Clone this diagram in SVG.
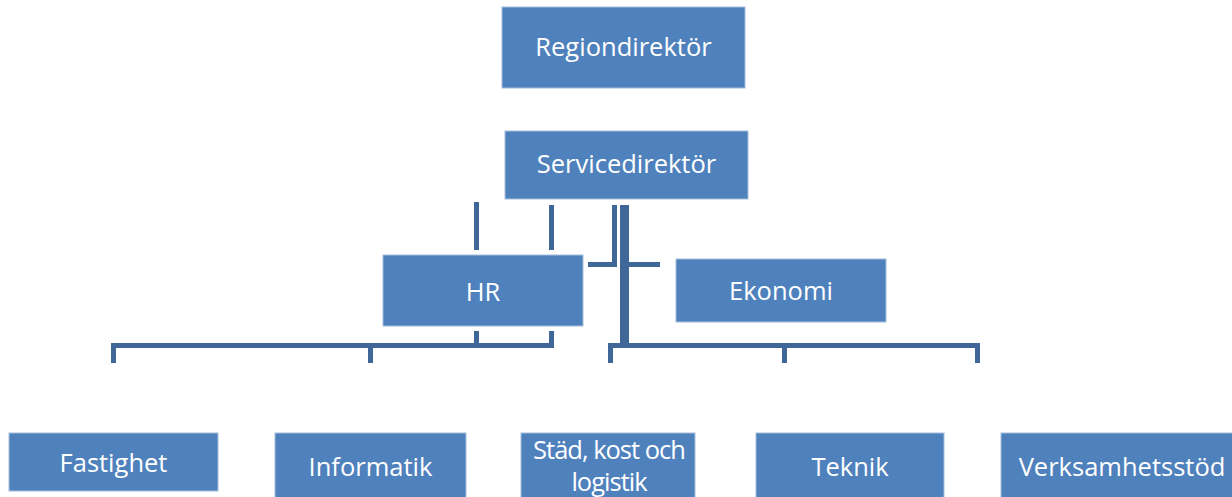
<svg xmlns="http://www.w3.org/2000/svg" width="1232" height="497" viewBox="0 0 1232 497">
<style>
.box{fill:#4F81BD;stroke:#A7BEDC;stroke-width:1}
.t{font-family:"Open Sans","Liberation Sans",sans-serif;font-size:25.5px;fill:#FFFFFF;text-anchor:middle}
.s{letter-spacing:-1px}
.c{fill:none;stroke:#3F6797;stroke-width:5;stroke-linecap:butt;stroke-linejoin:miter}
.ct{fill:none;stroke:#3F6797;stroke-width:9}
</style>
<rect x="0" y="0" width="1232" height="497" fill="#FFFFFF"/>
<g id="connectors">
<path class="c" d="M476.5,202 V250"/>
<path class="c" d="M551.5,205 V250"/>
<path class="c" d="M614.5,205 V264.5 H588"/>
<path class="c" d="M629,264.5 H660"/>
<path class="ct" d="M624.5,205 V345"/>
<path class="c" d="M476.5,331 V345.5"/>
<path class="c" d="M551.5,331 V345.5 H113.5 V363"/>
<path class="c" d="M370.5,345.5 V363"/>
<path class="c" d="M610.5,363 V345.5 H977.5 V363"/>
<path class="c" d="M784.5,345.5 V363"/>
</g>
<g id="regiondirektor"><rect class="box" x="502" y="7" width="243" height="81"/><text class="t" x="623.5" y="56">Regiondirektör</text></g>
<g id="servicedirektor"><rect class="box" x="505" y="131" width="243" height="68"/><text class="t" x="626.5" y="173">Servicedirektör</text></g>
<g id="hr"><rect class="box" x="383" y="255" width="200" height="71"/><text class="t" x="483" y="301">HR</text></g>
<g id="ekonomi"><rect class="box" x="676" y="259" width="210" height="63"/><text class="t" x="781" y="300">Ekonomi</text></g>
<g id="fastighet"><rect class="box" x="9" y="433" width="209" height="58"/><text class="t" x="113.5" y="472">Fastighet</text></g>
<g id="informatik"><rect class="box" x="275" y="433" width="191" height="70"/><text class="t" x="370.5" y="476">Informatik</text></g>
<g id="stad"><rect class="box" x="521" y="433" width="174" height="70"/><text class="t s" x="609" y="459">Städ, kost och</text><text class="t s" x="609" y="491">logistik</text></g>
<g id="teknik"><rect class="box" x="756" y="433" width="188" height="70"/><text class="t" x="850" y="476">Teknik</text></g>
<g id="verksamhetsstod"><rect class="box" x="1001" y="433" width="240" height="70"/><text class="t" x="1122" y="476">Verksamhetsstöd</text></g>
</svg>
